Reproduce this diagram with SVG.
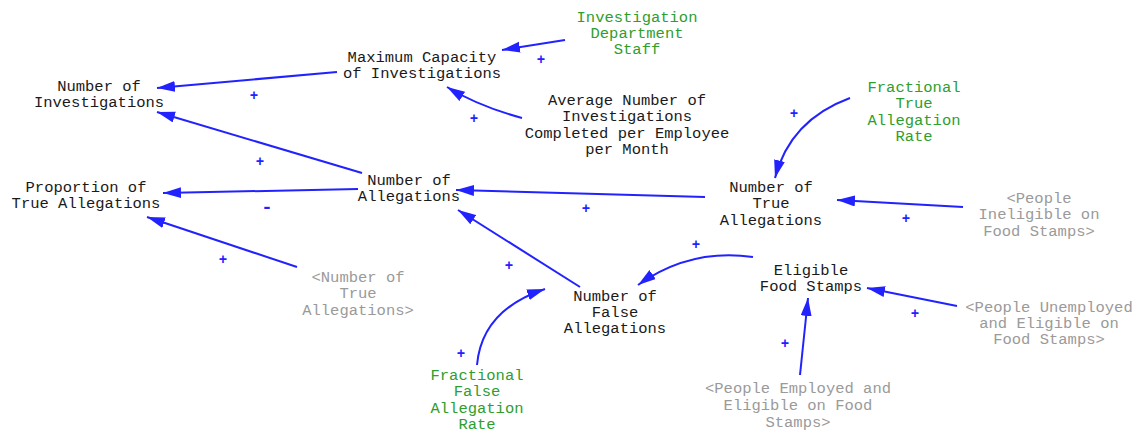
<svg xmlns="http://www.w3.org/2000/svg" width="1136" height="434" viewBox="0 0 1136 434">
<defs>
<marker id="ah" markerUnits="userSpaceOnUse" markerWidth="20" markerHeight="12" refX="18" refY="5.5" orient="auto">
<path d="M0,0 L18,5.5 L0,11 z" fill="#2222ff"/>
</marker>
</defs>
<style>
text{font-family:"Liberation Mono","DejaVu Sans Mono",monospace;font-size:15.5px;text-anchor:middle}
.v{fill:#1a1a1a}
.g{fill:#2e9e2e}
.s{fill:#9a9a9a}
.p{fill:#2222ff;font-size:14px;font-weight:bold}
.m{font-size:19px}
.c{fill:none;stroke:#2222ff;stroke-width:2;marker-end:url(#ah)}
</style>
<rect width="1136" height="434" fill="#ffffff"/>
<g id="connectors">
<path class="c" d="M337,72 L157,88"/>
<path class="c" d="M565,40 L502,50"/>
<path class="c" d="M522,118 Q478,106 447,87"/>
<path class="c" d="M362,173 L157,112"/>
<path class="c" d="M358,189 L163,193"/>
<path class="c" d="M705,197 L456,190"/>
<path class="c" d="M850,98 Q790,120 775,178"/>
<path class="c" d="M963,207 L837,200"/>
<path class="c" d="M297,267 L147,217"/>
<path class="c" d="M580,287 L458,210"/>
<path class="c" d="M753,257 Q690,248 638,285"/>
<path class="c" d="M477,365 Q482,310 545,289"/>
<path class="c" d="M957,306 L867,288"/>
<path class="c" d="M800,375 L808,298"/>
<text class="p" x="254" y="100">+</text>
<text class="p" x="541" y="64">+</text>
<text class="p" x="474" y="123">+</text>
<text class="p" x="260" y="166">+</text>
<text class="p m" x="267" y="213">-</text>
<text class="p" x="586" y="213">+</text>
<text class="p" x="794" y="118">+</text>
<text class="p" x="906" y="223">+</text>
<text class="p" x="223" y="264">+</text>
<text class="p" x="509" y="270">+</text>
<text class="p" x="696" y="249">+</text>
<text class="p" x="461" y="358">+</text>
<text class="p" x="915" y="318">+</text>
<text class="p" x="785" y="348">+</text>
</g>
<g id="n_investigations"><text class="v" x="99" y="91">Number of</text><text class="v" x="99" y="107">Investigations</text></g>
<g id="n_maxcap"><text class="v" x="422" y="62">Maximum Capacity</text><text class="v" x="422" y="78">of Investigations</text></g>
<g id="n_staff"><text class="g" x="637" y="22">Investigation</text><text class="g" x="637" y="38">Department</text><text class="g" x="637" y="54">Staff</text></g>
<g id="n_avg"><text class="v" x="627" y="105">Average Number of</text><text class="v" x="627" y="121">Investigations</text><text class="v" x="627" y="138">Completed per Employee</text><text class="v" x="627" y="154">per Month</text></g>
<g id="n_allegations"><text class="v" x="409" y="185">Number of</text><text class="v" x="409" y="201">Allegations</text></g>
<g id="n_proportion"><text class="v" x="86" y="192">Proportion of</text><text class="v" x="86" y="208">True Allegations</text></g>
<g id="n_true"><text class="v" x="771" y="192">Number of</text><text class="v" x="771" y="208">True</text><text class="v" x="771" y="225">Allegations</text></g>
<g id="n_fractrue"><text class="g" x="914" y="92">Fractional</text><text class="g" x="914" y="108">True</text><text class="g" x="914" y="125">Allegation</text><text class="g" x="914" y="141">Rate</text></g>
<g id="n_inelig"><text class="s" x="1039" y="203">&lt;People</text><text class="s" x="1039" y="219">Ineligible on</text><text class="s" x="1039" y="236">Food Stamps&gt;</text></g>
<g id="n_trueshadow"><text class="s" x="358" y="282">&lt;Number of</text><text class="s" x="358" y="298">True</text><text class="s" x="358" y="315">Allegations&gt;</text></g>
<g id="n_false"><text class="v" x="615" y="301">Number of</text><text class="v" x="615" y="317">False</text><text class="v" x="615" y="333">Allegations</text></g>
<g id="n_eligible"><text class="v" x="811" y="275">Eligible</text><text class="v" x="811" y="291">Food Stamps</text></g>
<g id="n_unemployed"><text class="s" x="1049" y="312">&lt;People Unemployed</text><text class="s" x="1049" y="328">and Eligible on</text><text class="s" x="1049" y="344">Food Stamps&gt;</text></g>
<g id="n_employed"><text class="s" x="798" y="393">&lt;People Employed and</text><text class="s" x="798" y="410">Eligible on Food</text><text class="s" x="798" y="427">Stamps&gt;</text></g>
<g id="n_fracfalse"><text class="g" x="477" y="380">Fractional</text><text class="g" x="477" y="396">False</text><text class="g" x="477" y="413">Allegation</text><text class="g" x="477" y="429">Rate</text></g>
</svg>
